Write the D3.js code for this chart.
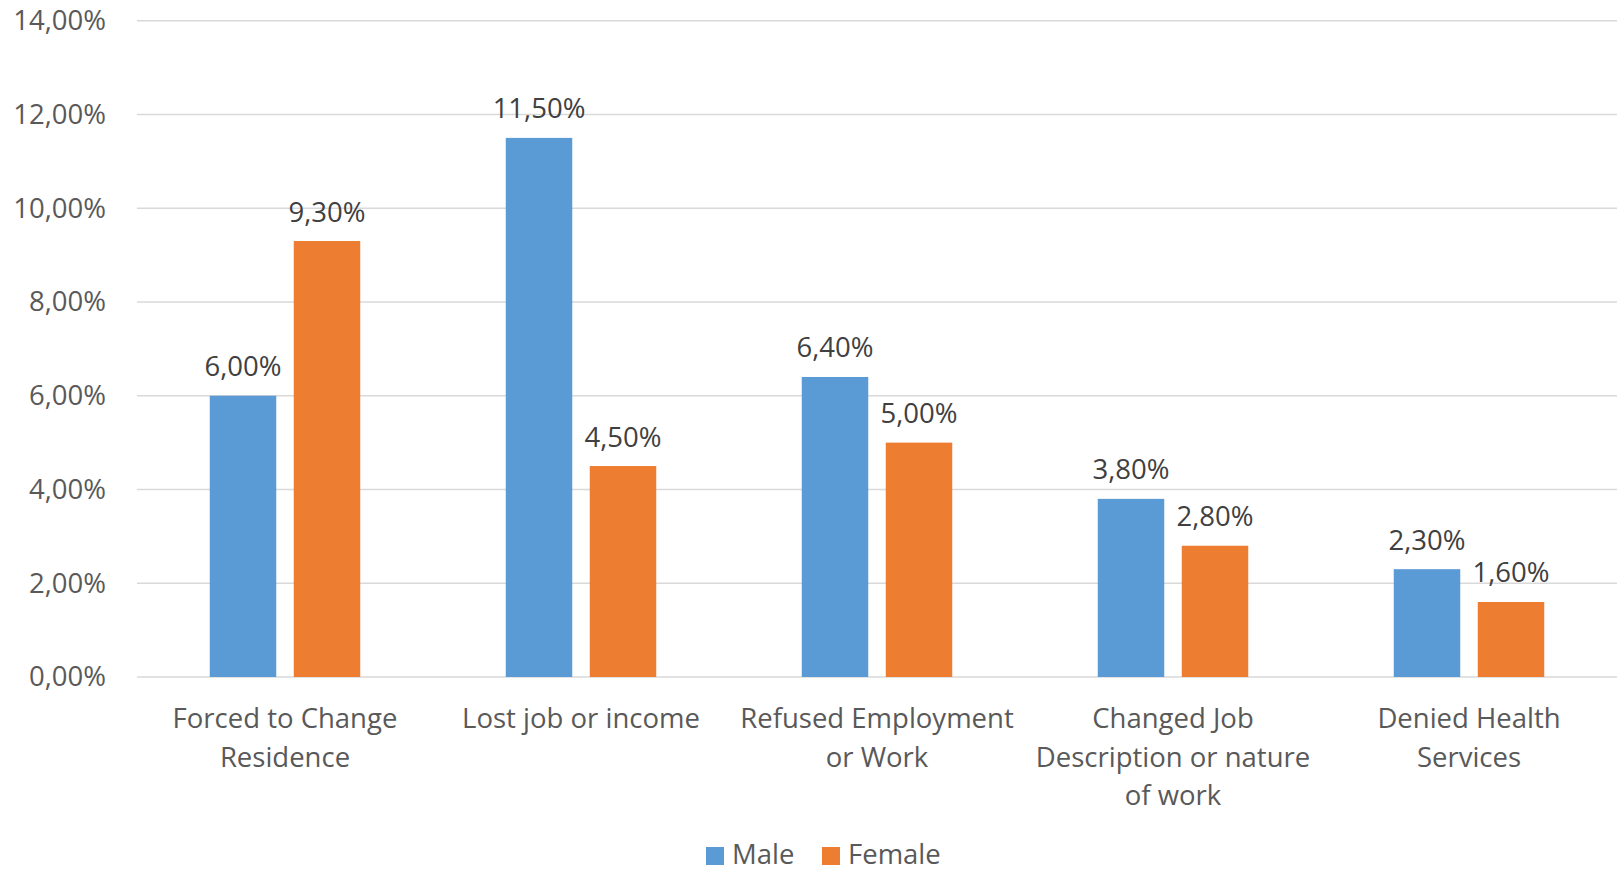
<!DOCTYPE html>
<html>
<head>
<meta charset="utf-8">
<script src="https://cdn.jsdelivr.net/npm/d3@7"></script>
<style>
  html, body { margin: 0; padding: 0; background: #ffffff; }
  svg { display: block; }
  text { font-family: "Open Sans", "Noto Sans", sans-serif; }
</style>
</head>
<body>
<svg id="chart" width="1617" height="872"></svg>
<script>
// Discrimination experienced, by sex (share of respondents)
const categories = [
  "Forced to Change Residence",
  "Lost job or income",
  "Refused Employment or Work",
  "Changed Job Description or nature of work",
  "Denied Health Services"
];
const categoryLines = [
  ["Forced to Change", "Residence"],
  ["Lost job or income"],
  ["Refused Employment", "or Work"],
  ["Changed Job", "Description or nature", "of work"],
  ["Denied Health", "Services"]
];
const seriesNames = ["Male", "Female"];
const maleValues = [6.0, 11.5, 6.4, 3.8, 2.3];
const femaleValues = [9.3, 4.5, 5.0, 2.8, 1.6];
const yTicks = [0, 2, 4, 6, 8, 10, 12, 14];
const colors = ["#5b9bd5", "#ed7d31"];

const seriesValues = [maleValues, femaleValues];
const fmt = v => v.toFixed(2).replace(".", ",") + "%";

const svg = d3.select("#chart");
const fontSize = 27.5;

const plot = { left: 137, right: 1617, top: 20.7, bottom: 677 };

const y = d3.scaleLinear().domain([0, 14]).range([plot.bottom, plot.top]);
const x0 = d3.scaleBand().domain(categories).range([plot.left, plot.right]).paddingInner(0).paddingOuter(0);
const groupWidth = 150.5;
const x1 = d3.scaleBand().domain(seriesNames).range([0, groupWidth]).paddingInner(0.2083).paddingOuter(0);

// Horizontal gridlines
svg.append("g")
  .selectAll("line")
  .data(yTicks)
  .join("line")
  .attr("x1", plot.left)
  .attr("x2", plot.right)
  .attr("y1", d => y(d))
  .attr("y2", d => y(d))
  .attr("stroke", "#d9d9d9")
  .attr("stroke-width", 1.5);

// Y axis labels
const yAxis = d3.axisLeft(y).tickValues(yTicks).tickFormat(fmt).tickSize(0).tickPadding(31);
const yg = svg.append("g").attr("transform", `translate(${plot.left},0)`).call(yAxis);
yg.select(".domain").remove();
yg.selectAll("text")
  .attr("fill", "#595959")
  .style("font-size", fontSize + "px")
  .style("font-family", '"Open Sans", sans-serif');

// Bars
const groups = svg.append("g")
  .selectAll("g")
  .data(categories)
  .join("g")
  .attr("transform", d => `translate(${x0(d) + x0.bandwidth() / 2 - groupWidth / 2},0)`);

groups.selectAll("rect")
  .data((d, i) => seriesNames.map((s, j) => ({ s, j, v: seriesValues[j][i] })))
  .join("rect")
  .attr("x", d => x1(d.s))
  .attr("width", x1.bandwidth())
  .attr("y", d => y(d.v))
  .attr("height", d => y(0) - y(d.v))
  .attr("fill", d => colors[d.j]);

// Value labels
groups.selectAll("text.value")
  .data((d, i) => seriesNames.map((s, j) => ({ s, j, v: seriesValues[j][i] })))
  .join("text")
  .attr("class", "value")
  .attr("x", d => x1(d.s) + x1.bandwidth() / 2)
  .attr("y", d => y(d.v) - 19.5)
  .attr("text-anchor", "middle")
  .attr("fill", "#404040")
  .style("font-size", fontSize + "px")
  .text(d => fmt(d.v));

// Category labels
const xg = svg.append("g");
categories.forEach((c, i) => {
  const t = xg.append("text")
    .attr("x", x0(c) + x0.bandwidth() / 2)
    .attr("y", 728)
    .attr("text-anchor", "middle")
    .attr("fill", "#595959")
    .style("font-size", fontSize + "px");
  categoryLines[i].forEach((line, k) => {
    t.append("tspan")
      .attr("x", x0(c) + x0.bandwidth() / 2)
      .attr("y", 728 + k * 38.7)
      .text(line);
  });
});

// Legend
const legendItems = [
  { name: seriesNames[0], color: colors[0], x: 706 },
  { name: seriesNames[1], color: colors[1], x: 822 }
];
const lg = svg.append("g");
legendItems.forEach(it => {
  lg.append("rect")
    .attr("x", it.x).attr("y", 847)
    .attr("width", 18).attr("height", 18)
    .attr("fill", it.color);
  lg.append("text")
    .attr("x", it.x + 26)
    .attr("y", 864)
    .attr("fill", "#595959")
    .style("font-size", fontSize + "px")
    .text(it.name);
});
</script>
</body>
</html>
